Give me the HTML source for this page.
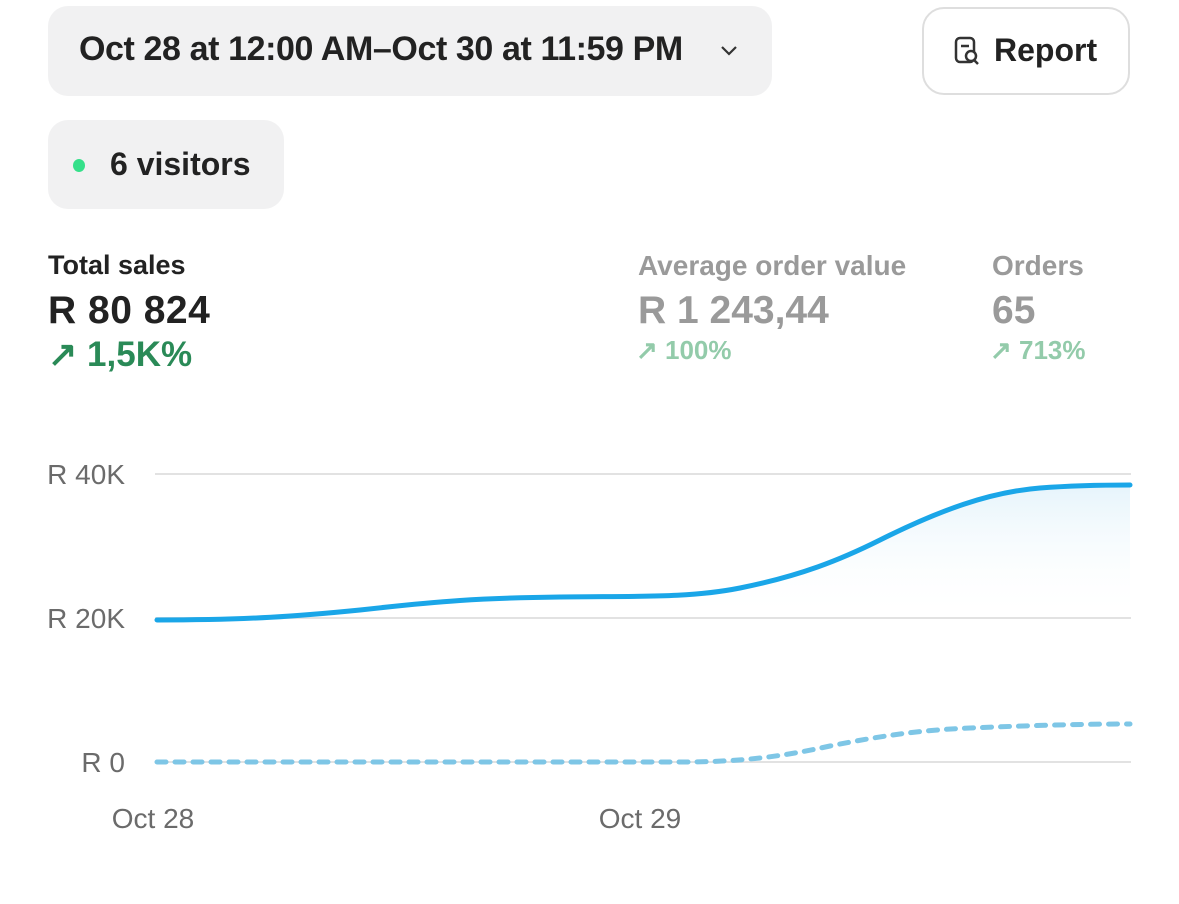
<!DOCTYPE html>
<html><head><meta charset="utf-8"><style>
body{margin:0;width:1179px;height:904px;background:#fff;font-family:"Liberation Sans",sans-serif;position:relative;overflow:hidden}
.pill{position:absolute;background:#f1f1f2;border-radius:20px}
.t{position:absolute;white-space:nowrap}
</style></head><body>
<div class="pill" style="left:48px;top:6px;width:724px;height:90px"></div>
<div class="t" style="left:79px;top:30px;font-size:34px;font-weight:600;color:#222;letter-spacing:-0.4px">Oct 28 at 12:00 AM–Oct 30 at 11:59 PM</div>
<svg style="position:absolute;left:719px;top:44px" width="20" height="14"><path d="M3 3 L10 10 L17 3" fill="none" stroke="#333" stroke-width="2.2"/></svg>
<div style="position:absolute;left:922px;top:7px;width:204px;height:84px;border:2px solid #dedede;border-radius:22px"></div>
<svg style="position:absolute;left:953px;top:36px" width="32" height="32"><rect x="3" y="2" width="18" height="24" rx="4" fill="none" stroke="#333" stroke-width="2.5"/><line x1="8" y1="10" x2="16" y2="10" stroke="#333" stroke-width="2.5"/><circle cx="18" cy="20" r="5" fill="#fff" stroke="#333" stroke-width="2.5"/><line x1="21" y1="24" x2="25" y2="28" stroke="#333" stroke-width="2.5"/></svg>
<div class="t" style="left:994px;top:32px;font-size:32px;font-weight:600;color:#222">Report</div>
<div class="pill" style="left:48px;top:120px;width:236px;height:89px"></div>
<div style="position:absolute;left:73px;top:159px;width:12px;height:13px;border-radius:50%;background:#35e08a"></div>
<div class="t" style="left:110px;top:146px;font-size:32px;font-weight:600;color:#222">6 visitors</div>
<div class="t" style="left:48px;top:250px;font-size:27px;font-weight:700;color:#222">Total sales</div>
<div class="t" style="left:48px;top:289px;font-size:39px;font-weight:700;color:#222;letter-spacing:0.5px">R 80 824</div>
<div class="t" style="left:48px;top:335px;font-size:35px;font-weight:700;color:#2a8a57">↗ 1,5K%</div>
<div class="t" style="left:638px;top:250px;font-size:28px;font-weight:700;color:#9a9a9a">Average order value</div>
<div class="t" style="left:638px;top:289px;font-size:39px;font-weight:700;color:#9a9a9a">R 1 243,44</div>
<div class="t" style="left:636px;top:335px;font-size:26px;font-weight:700;color:#93cbaa">↗ 100%</div>
<div class="t" style="left:992px;top:250px;font-size:28px;font-weight:700;color:#9a9a9a">Orders</div>
<div class="t" style="left:992px;top:289px;font-size:39px;font-weight:700;color:#9a9a9a">65</div>
<div class="t" style="left:990px;top:335px;font-size:26px;font-weight:700;color:#93cbaa">↗ 713%</div>
<svg style="position:absolute;left:0;top:0" width="1179" height="904">
<defs><linearGradient id="g" x1="0" y1="0" x2="0" y2="1"><stop offset="0" stop-color="#e6f4fb"/><stop offset="1" stop-color="#fff" stop-opacity="0"/></linearGradient></defs>
<line x1="155" y1="474" x2="1131" y2="474" stroke="#e2e2e2" stroke-width="2"/>
<line x1="155" y1="618" x2="1131" y2="618" stroke="#e2e2e2" stroke-width="2"/>
<line x1="155" y1="762" x2="1131" y2="762" stroke="#e2e2e2" stroke-width="2"/>
<g font-family="Liberation Sans" font-size="28" fill="#6b6b6b" text-anchor="end">
<text x="125" y="484">R 40K</text><text x="125" y="628">R 20K</text><text x="125" y="772">R 0</text></g>
<g font-family="Liberation Sans" font-size="28" fill="#6b6b6b" text-anchor="middle">
<text x="153" y="828">Oct 28</text><text x="640" y="828">Oct 29</text></g>
<path d="M157 620 C250 620 300 616 360 610 C440 601 480 598 560 597 C640 596 690 598 740 588 C800 576 840 560 880 540 C940 510 990 492 1040 488 C1080 485 1110 485 1130 485 L1130 618 L157 618Z" fill="url(#g)"/>
<path d="M157 620 C250 620 300 616 360 610 C440 601 480 598 560 597 C640 596 690 598 740 588 C800 576 840 560 880 540 C940 510 990 492 1040 488 C1080 485 1110 485 1130 485" fill="none" stroke="#1aa6e8" stroke-width="5" stroke-linecap="round"/>
<path d="M157 762 L680 762 C740 762 780 757 830 746 C880 736 920 730 970 728 C1040 725 1090 724 1130 724" fill="none" stroke="#7ec6e6" stroke-width="5" stroke-dasharray="9 9" stroke-linecap="round"/>
</svg>
</body></html>
